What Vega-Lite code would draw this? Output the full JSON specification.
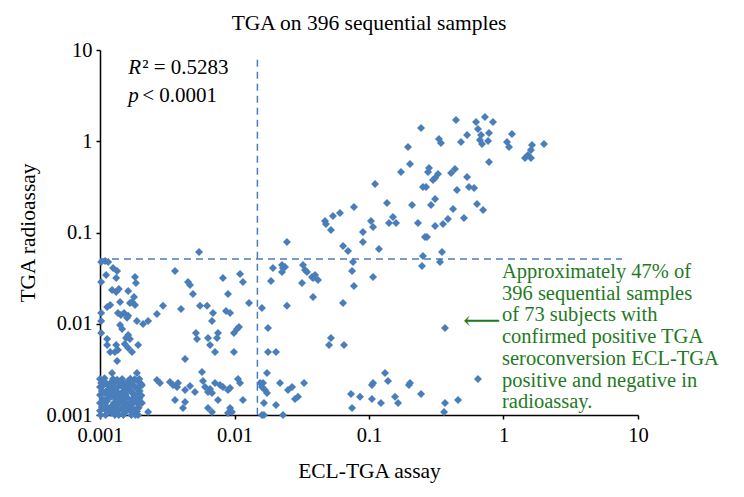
{
  "$schema": "https://vega.github.io/schema/vega-lite/v6.json",
  "width": 538,
  "height": 365,
  "autosize": {"type": "none"},
  "padding": {"left": 100, "top": 50, "right": 106, "bottom": 82},
  "background": "white",
  "config": {
    "font": "Liberation Serif",
    "view": {"stroke": null},
    "axis": {
      "grid": false,
      "domainColor": "black",
      "domainWidth": 1.5,
      "tickColor": "black",
      "tickWidth": 1.5,
      "tickSize": 4,
      "labelFont": "Liberation Serif",
      "labelFontSize": 20.5,
      "labelColor": "black",
      "labelFlush": false,
      "labelOverlap": false,
      "titleFont": "Liberation Serif",
      "titleFontSize": 21.5,
      "titleFontWeight": "normal",
      "titleColor": "black"
    },
    "axisX": {"labelPadding": 6, "titlePadding": 15},
    "axisY": {"labelPadding": 4, "titlePadding": 6}
  },
  "title": {
    "text": "TGA on 396 sequential samples",
    "font": "Liberation Serif",
    "fontSize": 21.5,
    "fontWeight": "normal",
    "color": "black",
    "anchor": "middle",
    "frame": "group",
    "offset": 6
  },
  "encoding": {
    "x": {
      "field": "x",
      "type": "quantitative",
      "scale": {"type": "log", "domain": [0.001, 10], "nice": false},
      "axis": {"title": "ECL-TGA assay", "values": [0.001, 0.01, 0.1, 1, 10], "format": "~g"}
    },
    "y": {
      "field": "y",
      "type": "quantitative",
      "scale": {"type": "log", "domain": [0.001, 10], "nice": false},
      "axis": {"title": "TGA radioassay", "values": [0.001, 0.01, 0.1, 1, 10], "format": "~g"}
    }
  },
  "datasets": {
    "vline": [{"x": 0.0148, "y": 7.8, "y2": 0.001}],
    "hline": [{"x": 0.001, "x2": 7.6, "y": 0.0513}],
    "stats": [{"x": 0.00162, "y": 6.35, "sym": "R", "rest": "² = 0.5283"}, {"x": 0.00162, "y": 3.13, "sym": "p", "rest": "< 0.0001"}],
    "note": [{"x": 0.975, "y": 0.0475}],
    "arrow": [{"x": 0.69, "y": 0.0106, "t": "⟵"}],
    "points": [
      {"x": 0.00545, "y": 0.0611}, {"x": 0.00102, "y": 0.0475}, {"x": 0.00109, "y": 0.0488}, {"x": 0.00115, "y": 0.0475},
      {"x": 0.00361, "y": 0.0378}, {"x": 0.00111, "y": 0.0342}, {"x": 0.00125, "y": 0.0408}, {"x": 0.00134, "y": 0.0378},
      {"x": 0.00132, "y": 0.0317}, {"x": 0.00182, "y": 0.0325}, {"x": 0.00185, "y": 0.028}, {"x": 0.00102, "y": 0.0287},
      {"x": 0.0082, "y": 0.0317}, {"x": 0.011, "y": 0.0351}, {"x": 0.01156, "y": 0.0287}, {"x": 0.00451, "y": 0.0287},
      {"x": 0.00467, "y": 0.0266}, {"x": 0.00491, "y": 0.0212}, {"x": 0.00123, "y": 0.0234}, {"x": 0.00132, "y": 0.0223},
      {"x": 0.00138, "y": 0.024}, {"x": 0.00162, "y": 0.0229}, {"x": 0.00179, "y": 0.0196}, {"x": 0.00173, "y": 0.0173},
      {"x": 0.00167, "y": 0.0169}, {"x": 0.00182, "y": 0.016}, {"x": 0.00141, "y": 0.0173}, {"x": 0.00895, "y": 0.0212},
      {"x": 0.01282, "y": 0.0169}, {"x": 0.00113, "y": 0.0153}, {"x": 0.00119, "y": 0.016}, {"x": 0.00102, "y": 0.0131},
      {"x": 0.00136, "y": 0.0131}, {"x": 0.00143, "y": 0.0125}, {"x": 0.00151, "y": 0.0131}, {"x": 0.00162, "y": 0.0122},
      {"x": 0.00159, "y": 0.0116}, {"x": 0.00294, "y": 0.0157}, {"x": 0.004, "y": 0.0145}, {"x": 0.00554, "y": 0.0157},
      {"x": 0.00625, "y": 0.0157}, {"x": 0.00265, "y": 0.0128}, {"x": 0.00692, "y": 0.0131}, {"x": 0.0068, "y": 0.0107},
      {"x": 0.00865, "y": 0.0138}, {"x": 0.00927, "y": 0.0131}, {"x": 0.00102, "y": 0.0107}, {"x": 0.00188, "y": 0.0107},
      {"x": 0.00209, "y": 0.00993}, {"x": 0.00228, "y": 0.0107}, {"x": 0.00141, "y": 0.00968}, {"x": 0.00146, "y": 0.00876},
      {"x": 0.00102, "y": 0.00792}, {"x": 0.00162, "y": 0.00753}, {"x": 0.00156, "y": 0.00698}, {"x": 0.00167, "y": 0.0068},
      {"x": 0.00517, "y": 0.00792}, {"x": 0.00526, "y": 0.0068}, {"x": 0.00635, "y": 0.00698}, {"x": 0.00658, "y": 0.00585},
      {"x": 0.00754, "y": 0.00792}, {"x": 0.00741, "y": 0.00698}, {"x": 0.0099, "y": 0.00792}, {"x": 0.01044, "y": 0.00876},
      {"x": 0.0108, "y": 0.0092}, {"x": 0.00113, "y": 0.0068}, {"x": 0.00113, "y": 0.00585}, {"x": 0.00119, "y": 0.0049},
      {"x": 0.00132, "y": 0.00585}, {"x": 0.00136, "y": 0.00515}, {"x": 0.00153, "y": 0.006}, {"x": 0.00162, "y": 0.00542},
      {"x": 0.00192, "y": 0.00585}, {"x": 0.00173, "y": 0.0049}, {"x": 0.00716, "y": 0.0049}, {"x": 0.0099, "y": 0.0049},
      {"x": 0.00429, "y": 0.00411}, {"x": 0.00134, "y": 0.00391}, {"x": 0.00123, "y": 0.00289}, {"x": 0.00188, "y": 0.00289},
      {"x": 0.00573, "y": 0.00296}, {"x": 0.00129, "y": 0.0049},
      {"x": 0.00265, "y": 0.00242}, {"x": 0.00279, "y": 0.00224}, {"x": 0.00331, "y": 0.0023}, {"x": 0.00349, "y": 0.00213},
      {"x": 0.0038, "y": 0.00224}, {"x": 0.00374, "y": 0.00203}, {"x": 0.00467, "y": 0.00208}, {"x": 0.00429, "y": 0.00188},
      {"x": 0.00508, "y": 0.00179}, {"x": 0.00583, "y": 0.00236}, {"x": 0.00604, "y": 0.00203}, {"x": 0.00635, "y": 0.00179},
      {"x": 0.00658, "y": 0.00193}, {"x": 0.0068, "y": 0.00174}, {"x": 0.00716, "y": 0.00224}, {"x": 0.0078, "y": 0.00213},
      {"x": 0.0082, "y": 0.00203}, {"x": 0.00895, "y": 0.00188}, {"x": 0.00927, "y": 0.00198}, {"x": 0.01062, "y": 0.00248},
      {"x": 0.01099, "y": 0.00224}, {"x": 0.00361, "y": 0.00146}, {"x": 0.00429, "y": 0.00139}, {"x": 0.00414, "y": 0.00119},
      {"x": 0.00228, "y": 0.00108}, {"x": 0.00635, "y": 0.00119}, {"x": 0.0068, "y": 0.00108}, {"x": 0.00754, "y": 0.00146},
      {"x": 0.00927, "y": 0.00119}, {"x": 0.00957, "y": 0.00108}, {"x": 0.00895, "y": 0.00105}, {"x": 0.01156, "y": 0.00146},
      {"x": 0.016, "y": 0.0149}, {"x": 0.01774, "y": 0.00898}, {"x": 0.01774, "y": 0.0049}, {"x": 0.02036, "y": 0.0049},
      {"x": 0.01932, "y": 0.0408}, {"x": 0.02256, "y": 0.0441}, {"x": 0.02295, "y": 0.0408}, {"x": 0.02256, "y": 0.0369},
      {"x": 0.02373, "y": 0.0419}, {"x": 0.01867, "y": 0.0294}, {"x": 0.0323, "y": 0.0441}, {"x": 0.03342, "y": 0.0388},
      {"x": 0.0346, "y": 0.0369}, {"x": 0.03767, "y": 0.0325}, {"x": 0.0397, "y": 0.0342}, {"x": 0.03837, "y": 0.0317},
      {"x": 0.04178, "y": 0.0301}, {"x": 0.03177, "y": 0.028}, {"x": 0.03837, "y": 0.0196}, {"x": 0.02455, "y": 0.0157},
      {"x": 0.06412, "y": 0.0169}, {"x": 0.07603, "y": 0.0475}, {"x": 0.07482, "y": 0.0378}, {"x": 0.06982, "y": 0.0627},
      {"x": 0.1186, "y": 0.066}, {"x": 0.07727, "y": 0.0259}, {"x": 0.1072, "y": 0.0325}, {"x": 0.05212, "y": 0.00698},
      {"x": 0.05047, "y": 0.00585}, {"x": 0.06516, "y": 0.00585}, {"x": 0.01745, "y": 0.00289}, {"x": 0.0155, "y": 0.00224},
      {"x": 0.0163, "y": 0.00224}, {"x": 0.016, "y": 0.00203}, {"x": 0.01686, "y": 0.00188}, {"x": 0.01745, "y": 0.00174},
      {"x": 0.02178, "y": 0.00224}, {"x": 0.03289, "y": 0.00224}, {"x": 0.025, "y": 0.00188}, {"x": 0.02678, "y": 0.00203},
      {"x": 0.02818, "y": 0.0015}, {"x": 0.02967, "y": 0.00158}, {"x": 0.01656, "y": 0.00135}, {"x": 0.02036, "y": 0.00129},
      {"x": 0.016, "y": 0.001}, {"x": 0.01656, "y": 0.001}, {"x": 0.02295, "y": 0.001}, {"x": 0.07345, "y": 0.0017},
      {"x": 0.0857, "y": 0.00158}, {"x": 0.07482, "y": 0.00119}, {"x": 0.1052, "y": 0.0015}, {"x": 0.1072, "y": 0.00224},
      {"x": 0.1052, "y": 0.00213}, {"x": 0.1315, "y": 0.00289}, {"x": 0.1384, "y": 0.00236}, {"x": 0.1227, "y": 0.00135},
      {"x": 0.156, "y": 0.00158}, {"x": 0.1644, "y": 0.00135}, {"x": 0.2018, "y": 0.00224}, {"x": 0.1982, "y": 0.00213},
      {"x": 0.2438, "y": 0.0017}, {"x": 0.3673, "y": 0.00135}, {"x": 0.4592, "y": 0.00146}, {"x": 0.3614, "y": 0.00108},
      {"x": 0.6457, "y": 0.00248}, {"x": 0.3673, "y": 0.00898}, {"x": 0.2518, "y": 0.0553}, {"x": 0.2477, "y": 0.043},
      {"x": 0.3491, "y": 0.0611}, {"x": 0.3373, "y": 0.0475},
      {"x": 0.02455, "y": 0.0786}, {"x": 0.0471, "y": 0.1337}, {"x": 0.04786, "y": 0.1239}, {"x": 0.05212, "y": 0.1065},
      {"x": 0.05395, "y": 0.1517}, {"x": 0.06081, "y": 0.1637}, {"x": 0.06412, "y": 0.0711}, {"x": 0.07727, "y": 0.1901},
      {"x": 0.09016, "y": 0.1012}, {"x": 0.09016, "y": 0.0786}, {"x": 0.1035, "y": 0.1337}, {"x": 0.1072, "y": 0.1148},
      {"x": 0.1109, "y": 0.3404}, {"x": 0.1361, "y": 0.2104}, {"x": 0.1409, "y": 0.1271}, {"x": 0.1507, "y": 0.1479},
      {"x": 0.1589, "y": 0.1271}, {"x": 0.173, "y": 0.4603}, {"x": 0.195, "y": 0.865}, {"x": 0.2018, "y": 0.563},
      {"x": 0.2089, "y": 0.2}, {"x": 0.2312, "y": 0.1271}, {"x": 0.2438, "y": 1.396}, {"x": 0.2518, "y": 0.3154},
      {"x": 0.2606, "y": 0.0893}, {"x": 0.4436, "y": 1.711}, {"x": 0.3311, "y": 1.059}, {"x": 0.3428, "y": 0.957},
      {"x": 0.4831, "y": 0.9821}, {"x": 0.5358, "y": 1.171}, {"x": 0.6252, "y": 1.626}, {"x": 0.7278, "y": 1.845},
      {"x": 0.8356, "y": 1.626}, {"x": 0.6457, "y": 1.361}, {"x": 0.6808, "y": 1.171}, {"x": 0.7798, "y": 1.231},
      {"x": 0.6683, "y": 1.033}, {"x": 0.692, "y": 0.9333}, {"x": 0.7674, "y": 1.007}, {"x": 1.156, "y": 1.2},
      {"x": 1.062, "y": 0.9821}, {"x": 1.099, "y": 0.865}, {"x": 1.629, "y": 0.9099}, {"x": 1.6, "y": 0.8017},
      {"x": 1.521, "y": 0.7066}, {"x": 1.445, "y": 0.6548}, {"x": 1.6, "y": 0.6548}, {"x": 2.0, "y": 0.9333},
      {"x": 0.7798, "y": 0.5926}, {"x": 0.2793, "y": 0.5093}, {"x": 0.2746, "y": 0.4603}, {"x": 0.326, "y": 0.4375},
      {"x": 0.3097, "y": 0.3954}, {"x": 0.2992, "y": 0.3758}, {"x": 0.4074, "y": 0.449}, {"x": 0.4355, "y": 0.4966},
      {"x": 0.5358, "y": 0.4055}, {"x": 0.2655, "y": 0.3154}, {"x": 0.4508, "y": 0.2924}, {"x": 0.5534, "y": 0.3154},
      {"x": 0.6039, "y": 0.3076}, {"x": 0.3097, "y": 0.2328}, {"x": 0.2891, "y": 0.2}, {"x": 0.4217, "y": 0.1811},
      {"x": 0.3864, "y": 0.1406}, {"x": 0.6353, "y": 0.2051}, {"x": 0.7047, "y": 0.1766}, {"x": 0.5082, "y": 0.1442},
      {"x": 0.3097, "y": 0.1178}, {"x": 0.3548, "y": 0.1239}, {"x": 0.2698, "y": 0.0893},
      {"x": 0.001, "y": 0.00248}, {"x": 0.00108, "y": 0.00252}, {"x": 0.00125, "y": 0.00248}, {"x": 0.00134, "y": 0.00244},
      {"x": 0.00146, "y": 0.00248}, {"x": 0.00168, "y": 0.0025}, {"x": 0.00181, "y": 0.00246}, {"x": 0.00196, "y": 0.00248},
      {"x": 0.00104, "y": 0.00236}, {"x": 0.00131, "y": 0.00234}, {"x": 0.00162, "y": 0.00236}, {"x": 0.0019, "y": 0.00238},
      {"x": 0.00102, "y": 0.00224}, {"x": 0.00112, "y": 0.00222}, {"x": 0.0012, "y": 0.00226}, {"x": 0.00139, "y": 0.00224},
      {"x": 0.0015, "y": 0.0022}, {"x": 0.0016, "y": 0.00226}, {"x": 0.00172, "y": 0.00224}, {"x": 0.00201, "y": 0.00222},
      {"x": 0.00106, "y": 0.00212}, {"x": 0.00143, "y": 0.00212}, {"x": 0.00176, "y": 0.00214}, {"x": 0.00205, "y": 0.00212},
      {"x": 0.001, "y": 0.00203}, {"x": 0.00118, "y": 0.00201}, {"x": 0.00127, "y": 0.00205}, {"x": 0.00136, "y": 0.00203},
      {"x": 0.00157, "y": 0.00199}, {"x": 0.00166, "y": 0.00203}, {"x": 0.00179, "y": 0.00207}, {"x": 0.00193, "y": 0.00203},
      {"x": 0.00115, "y": 0.00192}, {"x": 0.00152, "y": 0.00194}, {"x": 0.00188, "y": 0.00192},
      {"x": 0.00103, "y": 0.00183}, {"x": 0.00113, "y": 0.00185}, {"x": 0.00122, "y": 0.00181}, {"x": 0.0013, "y": 0.00183},
      {"x": 0.00149, "y": 0.00183}, {"x": 0.00161, "y": 0.00185}, {"x": 0.0017, "y": 0.00181}, {"x": 0.00197, "y": 0.00183},
      {"x": 0.00108, "y": 0.00174}, {"x": 0.00138, "y": 0.00172}, {"x": 0.00174, "y": 0.00174},
      {"x": 0.001, "y": 0.00166}, {"x": 0.00116, "y": 0.00164}, {"x": 0.00126, "y": 0.00168}, {"x": 0.00135, "y": 0.00166},
      {"x": 0.00145, "y": 0.00162}, {"x": 0.00155, "y": 0.00166}, {"x": 0.00178, "y": 0.00168}, {"x": 0.0019, "y": 0.00166}, {"x": 0.00203, "y": 0.00164},
      {"x": 0.00121, "y": 0.00158}, {"x": 0.00159, "y": 0.00156}, {"x": 0.00186, "y": 0.00158},
      {"x": 0.00104, "y": 0.0015}, {"x": 0.00111, "y": 0.00148}, {"x": 0.00131, "y": 0.0015}, {"x": 0.0014, "y": 0.00152},
      {"x": 0.00151, "y": 0.0015}, {"x": 0.00172, "y": 0.00148}, {"x": 0.00184, "y": 0.0015}, {"x": 0.00196, "y": 0.00152},
      {"x": 0.00113, "y": 0.00142}, {"x": 0.00147, "y": 0.0014}, {"x": 0.0018, "y": 0.00142},
      {"x": 0.001, "y": 0.00135}, {"x": 0.00109, "y": 0.00137}, {"x": 0.00127, "y": 0.00135}, {"x": 0.00137, "y": 0.00133},
      {"x": 0.00154, "y": 0.00135}, {"x": 0.00167, "y": 0.00137}, {"x": 0.00177, "y": 0.00135}, {"x": 0.00191, "y": 0.00133}, {"x": 0.00205, "y": 0.00135},
      {"x": 0.00124, "y": 0.00128}, {"x": 0.00158, "y": 0.00128},
      {"x": 0.00103, "y": 0.00122}, {"x": 0.00112, "y": 0.00124}, {"x": 0.00122, "y": 0.00122}, {"x": 0.0013, "y": 0.0012},
      {"x": 0.00149, "y": 0.00122}, {"x": 0.0016, "y": 0.00124}, {"x": 0.00171, "y": 0.00122}, {"x": 0.00194, "y": 0.0012},
      {"x": 0.00108, "y": 0.00116}, {"x": 0.00143, "y": 0.00116}, {"x": 0.00187, "y": 0.00116},
      {"x": 0.001, "y": 0.00111}, {"x": 0.00116, "y": 0.00111}, {"x": 0.00125, "y": 0.00109}, {"x": 0.00134, "y": 0.00111},
      {"x": 0.00156, "y": 0.00111}, {"x": 0.00166, "y": 0.00113}, {"x": 0.00176, "y": 0.00111}, {"x": 0.00188, "y": 0.00109},
      {"x": 0.00121, "y": 0.00105}, {"x": 0.00152, "y": 0.00105}, {"x": 0.00181, "y": 0.00105},
      {"x": 0.00101, "y": 0.001}, {"x": 0.0011, "y": 0.001}, {"x": 0.00129, "y": 0.001}, {"x": 0.00138, "y": 0.001},
      {"x": 0.00149, "y": 0.001}, {"x": 0.00171, "y": 0.001}, {"x": 0.00183, "y": 0.001}, {"x": 0.00192, "y": 0.001}
    ]
  },
  "layer": [
    {
      "data": {"name": "vline"},
      "mark": {"type": "rule", "color": "#4a7ebb", "strokeWidth": 1.5, "strokeDash": [7, 5]},
      "encoding": {"y2": {"field": "y2"}}
    },
    {
      "data": {"name": "hline"},
      "mark": {"type": "rule", "color": "#4a7ebb", "strokeWidth": 1.5, "strokeDash": [7, 5]},
      "encoding": {"x2": {"field": "x2"}}
    },
    {
      "data": {"name": "points"},
      "mark": {"type": "point", "shape": "diamond", "filled": true, "size": 64, "color": "#4a7ebb", "opacity": 1}
    },
    {
      "data": {"name": "stats"},
      "mark": {"type": "text", "align": "left", "baseline": "middle", "font": "Liberation Serif", "fontSize": 21, "fontStyle": "italic", "color": "black"},
      "encoding": {"text": {"field": "sym"}}
    },
    {
      "data": {"name": "stats"},
      "mark": {"type": "text", "align": "left", "baseline": "middle", "font": "Liberation Serif", "fontSize": 21, "color": "black", "dx": 14},
      "encoding": {"text": {"field": "rest"}}
    },
    {
      "data": {"name": "note"},
      "mark": {
        "type": "text", "align": "left", "baseline": "top", "font": "Liberation Serif", "fontSize": 20.5, "lineHeight": 21.7, "color": "#1f7a1f",
        "text": ["Approximately 47% of", "396 sequential samples", "of 73 subjects with", "confirmed positive TGA", "seroconversion ECL-TGA", "positive and negative in", "radioassay."]
      }
    },
    {
      "data": {"name": "arrow"},
      "mark": {"type": "text", "align": "center", "baseline": "middle", "font": "DejaVu Serif", "fontSize": 26, "color": "#1f7a1f"},
      "encoding": {"text": {"field": "t"}}
    }
  ]
}
